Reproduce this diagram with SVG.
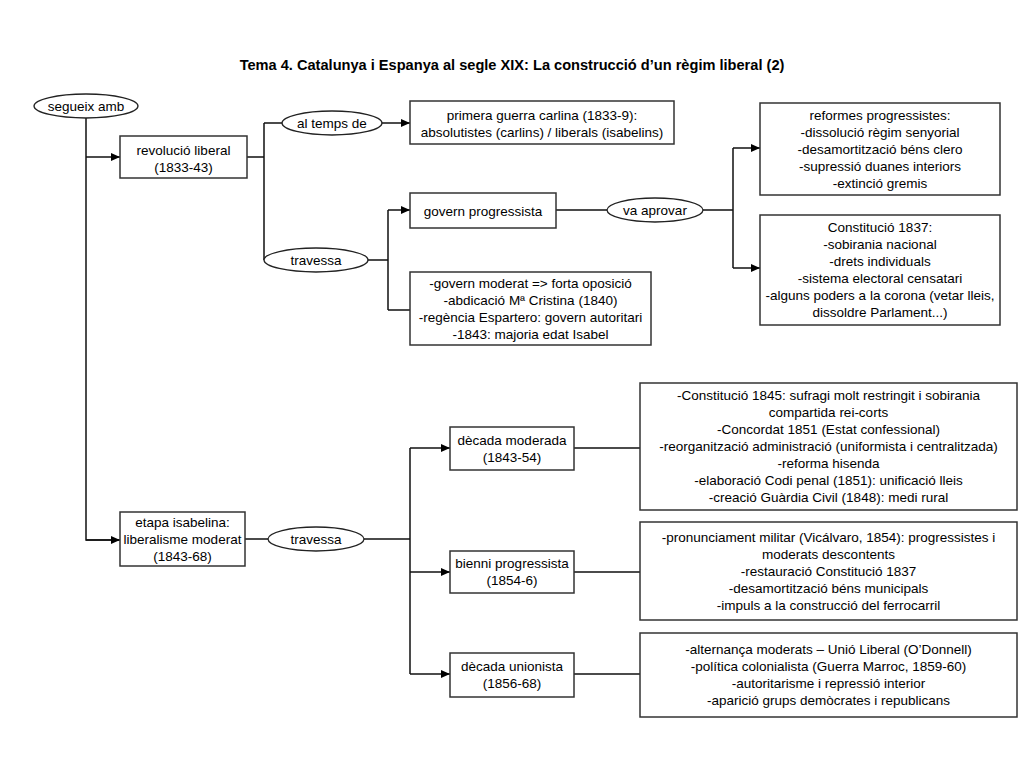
<svg xmlns="http://www.w3.org/2000/svg" width="1024" height="768" viewBox="0 0 1024 768">
<style>
text{font-family:"Liberation Sans",Arial,sans-serif;font-size:13.5px;fill:#000;text-anchor:middle}
.title{font-size:14.6px;font-weight:bold}
.box{fill:#fff;stroke:#333;stroke-width:1.5}
.ell{fill:#fff;stroke:#222;stroke-width:1.3}
.c{fill:none;stroke:#111;stroke-width:1.5}
.a{marker-end:url(#arr)}
</style>
<defs>
<marker id="arr" markerUnits="userSpaceOnUse" markerWidth="10" markerHeight="10" refX="9" refY="4" orient="auto">
<path d="M0,0 L9,4 L0,8 Z" fill="#000"/>
</marker>
</defs>
<rect width="1024" height="768" fill="#fff"/>
<text class="title" x="512" y="70">Tema 4. Catalunya i Espanya al segle XIX: La construcció d’un règim liberal (2)</text>

<g id="connectors">
<path class="c" d="M86 118 V540 H119"/>
<path class="c a" d="M86 540 H120"/>
<path class="c a" d="M86 157 H120"/>
<path class="c" d="M247 157 H264 M264 123 V260 M264 123 H282"/>
<path class="c a" d="M382 123 H410"/>
<path class="c" d="M368 260 H388 M388 210 V310 M388 310 H410"/>
<path class="c a" d="M388 210 H410"/>
<path class="c" d="M556 210 H607 M703 210 H733 M733 148 V268"/>
<path class="c a" d="M733 148 H760"/>
<path class="c a" d="M733 268 H760"/>
<path class="c" d="M245 539 H268 M364 539 H410 M410 448 V674"/>
<path class="c a" d="M410 448 H450"/>
<path class="c a" d="M410 572 H450"/>
<path class="c a" d="M410 674 H450"/>
<path class="c" d="M574 448 H640 M574 572 H640 M574 674 H640"/>
</g>

<g id="segueix"><ellipse class="ell" cx="86" cy="106" rx="52" ry="12"/><text x="86" y="110.5">segueix amb</text></g>
<g id="revolucio"><rect class="box" x="120" y="136" width="127" height="42"/><text x="183.5" y="154.5">revolució liberal</text><text x="183.5" y="171.5">(1833-43)</text></g>
<g id="altemps"><ellipse class="ell" cx="332" cy="123" rx="50" ry="12"/><text x="332" y="127.5">al temps de</text></g>
<g id="guerra"><rect class="box" x="410" y="101" width="264" height="43"/><text x="542" y="119.5">primera guerra carlina (1833-9):</text><text x="542" y="136.5">absolutistes (carlins) / liberals (isabelins)</text></g>
<g id="travessa1"><ellipse class="ell" cx="316" cy="260" rx="52" ry="12"/><text x="316" y="264.5">travessa</text></g>
<g id="progressista"><rect class="box" x="410" y="193" width="146" height="35"/><text x="483" y="215.5">govern progressista</text></g>
<g id="moderat"><rect class="box" x="410" y="272" width="241" height="73"/><text x="530.5" y="287.5">-govern moderat =&gt; forta oposició</text><text x="530.5" y="304.5">-abdicació Mª Cristina (1840)</text><text x="530.5" y="321.5">-regència Espartero: govern autoritari</text><text x="530.5" y="338.5">-1843: majoria edat Isabel</text></g>
<g id="aprovar"><ellipse class="ell" cx="655" cy="210" rx="48" ry="12"/><text x="655" y="214.5">va aprovar</text></g>
<g id="reformes"><rect class="box" x="760" y="103" width="240" height="92"/><text x="880" y="119.5">reformes progressistes:</text><text x="880" y="136.5">-dissolució règim senyorial</text><text x="880" y="153.5">-desamortització béns clero</text><text x="880" y="170.5">-supressió duanes interiors</text><text x="880" y="187.5">-extinció gremis</text></g>
<g id="const1837"><rect class="box" x="760" y="215" width="240" height="110"/><text x="880" y="232">Constitució 1837:</text><text x="880" y="249">-sobirania nacional</text><text x="880" y="266">-drets individuals</text><text x="880" y="283">-sistema electoral censatari</text><text x="880" y="300">-alguns poders a la corona (vetar lleis,</text><text x="880" y="317">dissoldre Parlament...)</text></g>
<g id="etapa"><rect class="box" x="120" y="512" width="125" height="54"/><text x="182.5" y="526.5">etapa isabelina:</text><text x="182.5" y="543.5">liberalisme moderat</text><text x="182.5" y="560.5">(1843-68)</text></g>
<g id="travessa2"><ellipse class="ell" cx="316" cy="539" rx="48" ry="12"/><text x="316" y="543.5">travessa</text></g>
<g id="decmoderada"><rect class="box" x="450" y="427" width="124" height="43"/><text x="512" y="444.5">dècada moderada</text><text x="512" y="461.5">(1843-54)</text></g>
<g id="const1845"><rect class="box" x="640" y="383" width="377" height="127"/><text x="828.5" y="400">-Constitució 1845: sufragi molt restringit i sobirania</text><text x="828.5" y="417">compartida rei-corts</text><text x="828.5" y="434">-Concordat 1851 (Estat confessional)</text><text x="828.5" y="451">-reorganització administració (uniformista i centralitzada)</text><text x="828.5" y="468">-reforma hisenda</text><text x="828.5" y="485">-elaboració Codi penal (1851): unificació lleis</text><text x="828.5" y="502">-creació Guàrdia Civil (1848): medi rural</text></g>
<g id="bienni"><rect class="box" x="450" y="551" width="124" height="42"/><text x="512" y="568">bienni progressista</text><text x="512" y="585">(1854-6)</text></g>
<g id="pronunciament"><rect class="box" x="640" y="522" width="377" height="98"/><text x="828.5" y="541.5">-pronunciament militar (Vicálvaro, 1854): progressistes i</text><text x="828.5" y="558.5">moderats descontents</text><text x="828.5" y="575.5">-restauració Constitució 1837</text><text x="828.5" y="592.5">-desamortització béns municipals</text><text x="828.5" y="609.5">-impuls a la construcció del ferrocarril</text></g>
<g id="unionista"><rect class="box" x="450" y="653" width="124" height="44"/><text x="512" y="671">dècada unionista</text><text x="512" y="688">(1856-68)</text></g>
<g id="alternanca"><rect class="box" x="640" y="633" width="377" height="84"/><text x="828.5" y="654">-alternança moderats – Unió Liberal (O’Donnell)</text><text x="828.5" y="671">-política colonialista (Guerra Marroc, 1859-60)</text><text x="828.5" y="688">-autoritarisme i repressió interior</text><text x="828.5" y="705">-aparició grups demòcrates i republicans</text></g>
</svg>
